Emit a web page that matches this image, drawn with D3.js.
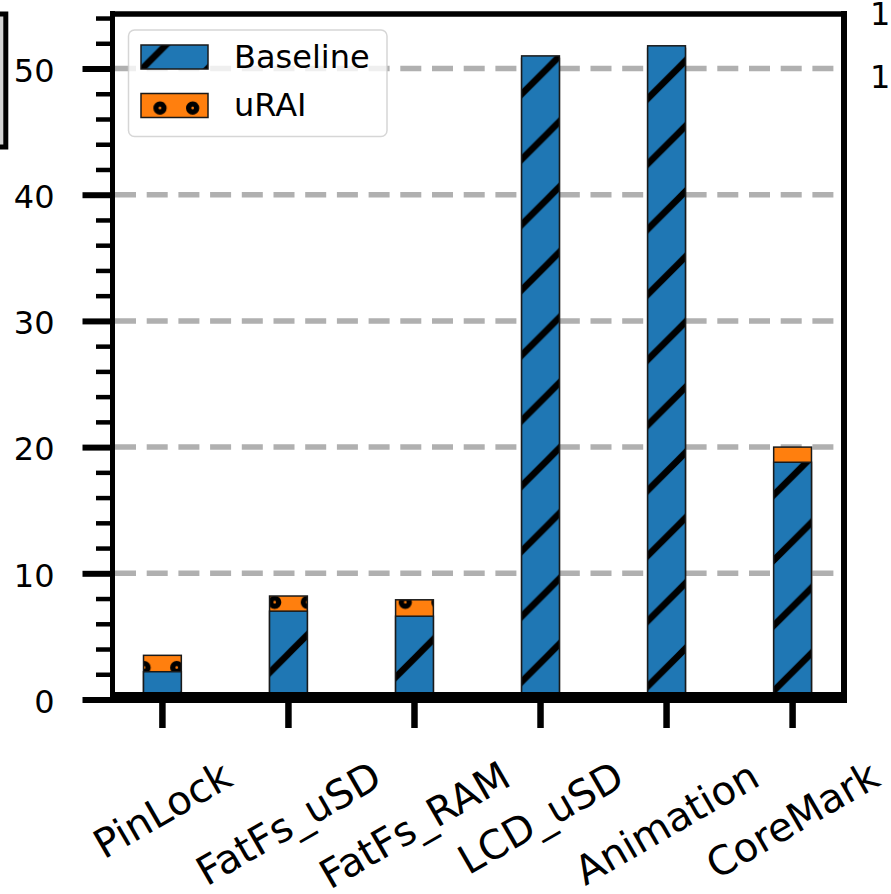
<!DOCTYPE html>
<html>
<head>
<meta charset="utf-8">
<script src="https://cdn.jsdelivr.net/npm/d3@7"></script>
<style>
  body { margin: 0; background: #fff; }
  svg { display: block; font-family: "DejaVu Sans", sans-serif; }
</style>
</head>
<body>
<svg id="chart"></svg>
<script>
const categories = ["PinLock", "FatFs_uSD", "FatFs_RAM", "LCD_uSD", "Animation", "CoreMark"];
const baselineValues = [2.2, 7.0, 6.6, 51.0, 51.8, 18.8];
const uraiValues = [3.5, 8.2, 7.9, 50.8, 51.6, 20.0];
const seriesNames = ["Baseline", "uRAI"];
const yMajorTicks = [0, 10, 20, 30, 40, 50];
const yMinorTicks = [2, 4, 6, 8, 12, 14, 16, 18, 22, 24, 26, 28, 32, 34, 36, 38, 42, 44, 46, 48, 52, 54];
const gridValues = [10, 20, 30, 40, 50];
const neighbourTickLabels = ["1", "1"]; // cut-off labels of the next panel

const width = 891;
const height = 894;
const frame = { left: 112.5, right: 844, top: 14, bottom: 699.5 };
const blue = "#1f77b4";
const orange = "#ff7f0e";
const font = "'DejaVu Sans', sans-serif";

const svg = d3.select("#chart").attr("width", width).attr("height", height);

const x = d3
  .scaleBand()
  .domain(categories)
  .range([112, 843])
  .paddingInner(0.7)
  .paddingOuter(0.25);

const y = d3.scaleLinear().domain([0, 54.32]).range([frame.bottom, frame.top]);

// hatch patterns (anchored to the page like matplotlib does)
const defs = svg.append("defs");
function slashPattern(id, phase) {
  const P = 65.3;
  defs
    .append("pattern")
    .attr("id", id)
    .attr("patternUnits", "userSpaceOnUse")
    .attr("x", phase)
    .attr("y", 0)
    .attr("width", P)
    .attr("height", P)
    .append("path")
    .attr("d", `M-10,10L10,-10M0,${P}L${P},0M${P - 10},${P + 10}L${P + 10},${P - 10}`)
    .attr("stroke", "#000")
    .attr("stroke-width", 6.5);
}
function dotPattern(id, cx, cy) {
  const Q = 32.65;
  const p = defs
    .append("pattern")
    .attr("id", id)
    .attr("patternUnits", "userSpaceOnUse")
    .attr("width", Q)
    .attr("height", 2 * Q);
  const pts = [];
  [[cx, cy], [cx + Q / 2, cy + Q]].forEach(([a, b]) => {
    a = ((a % Q) + Q) % Q;
    b = ((b % (2 * Q)) + 2 * Q) % (2 * Q);
    [-Q, 0, Q].forEach((dx) => [-2 * Q, 0, 2 * Q].forEach((dy) => pts.push([a + dx, b + dy])));
  });
  p.selectAll("circle")
    .data(pts)
    .join("circle")
    .attr("cx", (d) => d[0])
    .attr("cy", (d) => d[1])
    .attr("r", 4)
    .attr("fill", "none")
    .attr("stroke", "#000")
    .attr("stroke-width", 5.3);
}
slashPattern("slash", 28);
slashPattern("slashLegend", 15);
dotPattern("dots", 13.5, 14.5);
dotPattern("dotsLegend", 160, 108);

// partial frame of the neighbouring panel on the left
svg
  .append("rect")
  .attr("x", -20)
  .attr("y", 14)
  .attr("width", 25.8)
  .attr("height", 133)
  .attr("fill", "#d3d3d3")
  .attr("stroke", "#000")
  .attr("stroke-width", 5);

// grid
svg
  .append("g")
  .selectAll("line")
  .data(gridValues)
  .join("line")
  .attr("x1", 115)
  .attr("x2", 841)
  .attr("y1", (d) => y(d))
  .attr("y2", (d) => y(d))
  .attr("stroke", "#b0b0b0")
  .attr("stroke-width", 5.5)
  .attr("stroke-dasharray", "21 10.7");

// bars: uRAI behind, Baseline in front
function drawBars(values, color, patternId) {
  const data = categories.map((c, i) => ({ cat: c, value: values[i] }));
  const g = svg.append("g");
  g.selectAll("rect.face")
    .data(data)
    .join("rect")
    .attr("class", "face")
    .attr("x", (d) => x(d.cat))
    .attr("y", (d) => y(d.value))
    .attr("width", x.bandwidth())
    .attr("height", (d) => y(0) - y(d.value))
    .attr("fill", color);
  g.selectAll("rect.hatch")
    .data(data)
    .join("rect")
    .attr("class", "hatch")
    .attr("x", (d) => x(d.cat))
    .attr("y", (d) => y(d.value))
    .attr("width", x.bandwidth())
    .attr("height", (d) => y(0) - y(d.value))
    .attr("fill", `url(#${patternId})`)
    .attr("stroke", "#1a1a1a")
    .attr("stroke-width", 1.5);
}
drawBars(uraiValues, orange, "dots");
drawBars(baselineValues, blue, "slash");

// spines
const spines = svg.append("g").attr("stroke", "#000");
spines.append("line").attr("x1", 110).attr("x2", 847).attr("y1", frame.top).attr("y2", frame.top).attr("stroke-width", 5.5);
spines.append("line").attr("x1", frame.left).attr("x2", frame.left).attr("y1", 11).attr("y2", 703).attr("stroke-width", 5);
spines.append("line").attr("x1", frame.right).attr("x2", frame.right).attr("y1", 11).attr("y2", 703).attr("stroke-width", 6);
spines.append("line").attr("x1", 110).attr("x2", 847).attr("y1", 697.5).attr("y2", 697.5).attr("stroke-width", 11);

// Y axis
const yAxis = svg
  .append("g")
  .attr("transform", `translate(${frame.left},0)`)
  .call(d3.axisLeft(y).tickValues(yMajorTicks).tickSize(30).tickPadding(28));
yAxis.attr("font-family", font).attr("font-size", 32);
yAxis.select(".domain").remove();
yAxis.selectAll(".tick line").attr("stroke", "#000").attr("stroke-width", 6);
yAxis.selectAll(".tick text").attr("fill", "#000").attr("dy", "0.4em");

const yMinor = svg
  .append("g")
  .attr("transform", `translate(${frame.left},0)`)
  .call(d3.axisLeft(y).tickValues(yMinorTicks).tickSize(16.5).tickFormat(() => ""));
yMinor.select(".domain").remove();
yMinor.selectAll(".tick line").attr("stroke", "#000").attr("stroke-width", 4.5);

// X axis
const xAxis = svg
  .append("g")
  .attr("transform", "translate(0,697)")
  .call(d3.axisBottom(x).tickSize(31).tickFormat(() => ""));
xAxis.select(".domain").remove();
xAxis.selectAll(".tick line").attr("stroke", "#000").attr("stroke-width", 6.5);

// rotated category labels (centred, top of rotated box aligned)
const labelSize = 40;
const labelTop = 752;
const labels = svg
  .append("g")
  .attr("font-family", font)
  .attr("font-size", labelSize)
  .selectAll("text")
  .data(categories)
  .join("text")
  .attr("text-anchor", "middle")
  .attr("dy", "0.35em")
  .text((d) => d);
labels.attr("transform", function (d) {
  const w = this.getComputedTextLength();
  const h = labelSize * 1.164;
  const cy = labelTop + (0.5 * w + 0.866 * h) / 2;
  const cx = x(d) + x.bandwidth() / 2;
  return `translate(${cx},${cy}) rotate(-30)`;
});

// legend
const legend = svg.append("g");
legend
  .append("rect")
  .attr("x", 128.5)
  .attr("y", 30)
  .attr("width", 258.5)
  .attr("height", 106.5)
  .attr("rx", 6)
  .attr("fill", "#fff")
  .attr("fill-opacity", 0.8)
  .attr("stroke", "#cccccc")
  .attr("stroke-opacity", 0.8)
  .attr("stroke-width", 1.5);
const legendItems = [
  { name: seriesNames[0], color: blue, pattern: "slashLegend", y: 45 },
  { name: seriesNames[1], color: orange, pattern: "dotsLegend", y: 93.5 },
];
legendItems.forEach((item) => {
  legend.append("rect").attr("x", 141).attr("y", item.y).attr("width", 67).attr("height", 24).attr("fill", item.color);
  legend
    .append("rect")
    .attr("x", 141)
    .attr("y", item.y)
    .attr("width", 67)
    .attr("height", 24)
    .attr("fill", `url(#${item.pattern})`)
    .attr("stroke", "#1a1a1a")
    .attr("stroke-width", 1.5);
  legend
    .append("text")
    .attr("x", 234)
    .attr("y", item.y + 22.5)
    .attr("font-family", font)
    .attr("font-size", 32)
    .text(item.name);
});

// cut-off tick labels of the panel on the right
svg
  .append("g")
  .attr("font-family", font)
  .attr("font-size", 32)
  .selectAll("text")
  .data(neighbourTickLabels)
  .join("text")
  .attr("x", 870)
  .attr("y", (d, i) => 25 + i * 63)
  .text((d) => d);
</script>
</body>
</html>
